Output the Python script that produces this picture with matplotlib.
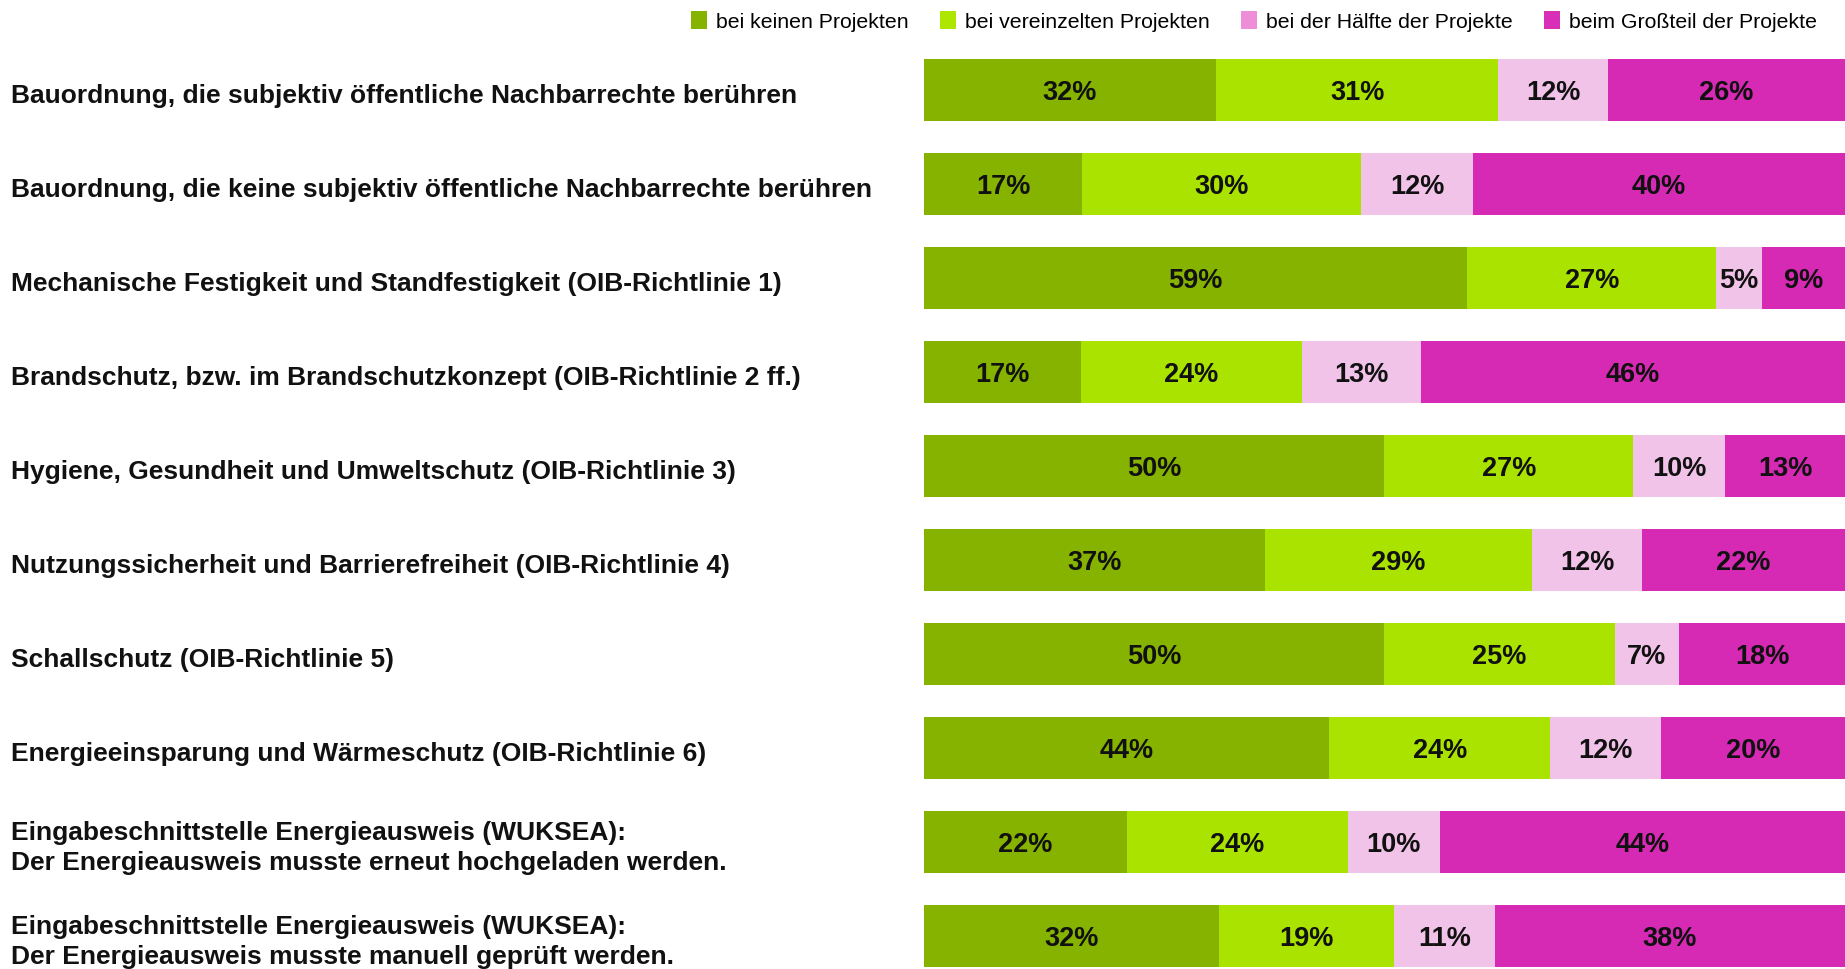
import matplotlib.pyplot as plt
import numpy as np
from matplotlib.patches import Patch

plt.rcParams['font.family'] = ['Liberation Sans', 'DejaVu Sans']

# Kategorien (von oben nach unten)
categories = [
    'Bauordnung, die subjektiv öffentliche Nachbarrechte berühren',
    'Bauordnung, die keine subjektiv öffentliche Nachbarrechte berühren',
    'Mechanische Festigkeit und Standfestigkeit (OIB-Richtlinie 1)',
    'Brandschutz, bzw. im Brandschutzkonzept (OIB-Richtlinie 2 ff.)',
    'Hygiene, Gesundheit und Umweltschutz (OIB-Richtlinie 3)',
    'Nutzungssicherheit und Barrierefreiheit (OIB-Richtlinie 4)',
    'Schallschutz (OIB-Richtlinie 5)',
    'Energieeinsparung und Wärmeschutz (OIB-Richtlinie 6)',
    'Eingabeschnittstelle Energieausweis (WUKSEA):\nDer Energieausweis musste erneut hochgeladen werden.',
    'Eingabeschnittstelle Energieausweis (WUKSEA):\nDer Energieausweis musste manuell geprüft werden.',
]

series_names = ['bei keinen Projekten', 'bei vereinzelten Projekten',
                'bei der Hälfte der Projekte', 'beim Großteil der Projekte']

# Anteile in %
keine      = [32, 17, 59, 17, 50, 37, 50, 44, 22, 32]
vereinzelt = [31, 30, 27, 24, 27, 29, 25, 24, 24, 19]
haelfte    = [12, 12,  5, 13, 10, 12,  7, 12, 10, 11]
grossteil  = [26, 40,  9, 46, 13, 22, 18, 20, 44, 38]

bar_colors    = ['#86b300', '#aae300', '#f2c3e8', '#d629b4']
legend_colors = ['#86b300', '#aee600', '#ee8ed8', '#d92fb8']

data = np.array([keine, vereinzelt, haelfte, grossteil], dtype=float)
# 100%-Balken: jede Zeile auf ihre Summe normieren
shares = data / data.sum(axis=0) * 100

fig = plt.figure(figsize=(18.45, 9.69), dpi=100)
ax = fig.add_axes([0.5008, 0.0, 0.4992, 0.9556])

y = np.arange(len(categories))
left = np.zeros(len(categories))
for i in range(4):
    bars = ax.barh(y, shares[i], left=left, height=0.66, color=bar_colors[i],
                   edgecolor='none')
    lbls = ax.bar_label(bars, labels=[f'{v:.0f}%' for v in data[i]], label_type='center',
                        fontsize=19.5, fontweight='bold', color='#111111')
    for t in lbls:
        t.set_va('center_baseline')
    left += shares[i]

ax.set_xlim(0, 100)
ax.set_ylim(9.35, -0.5)
ax.axis('off')

# Kategorie-Beschriftungen links, auf Höhe der Balken
for yi, txt in zip(y, categories):
    ypix = ax.transData.transform((0, yi))[1]
    yfig = fig.transFigure.inverted().transform((0, ypix))[1]
    fig.text(0.006, yfig - 0.006, txt, ha='left', va='center', fontsize=19,
             fontweight='bold', color='#111111', linespacing=1.33)

handles = [Patch(facecolor=c, edgecolor='none') for c in legend_colors]
fig.legend(handles, series_names, loc='upper right', bbox_to_anchor=(0.995, 1.008),
           ncol=4, frameon=False, fontsize=15.3, handlelength=0.75, handleheight=0.9,
           handletextpad=0.4, columnspacing=1.5)

fig.savefig('out.png', dpi=100)
